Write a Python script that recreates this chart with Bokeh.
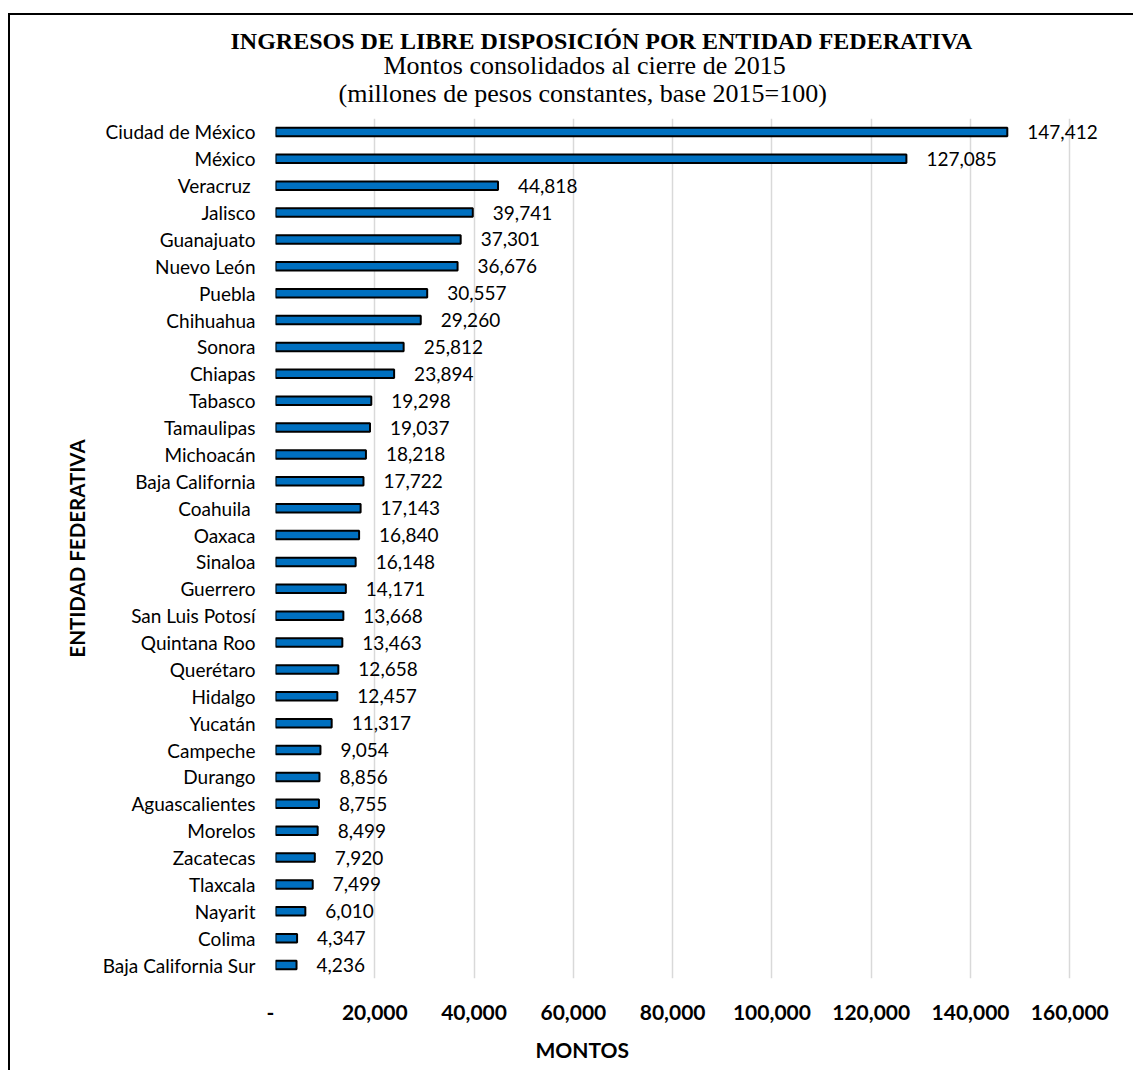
from bokeh.plotting import figure
from bokeh.models import FactorRange, Range1d, Title, ColumnDataSource
from bokeh.embed import file_html
from bokeh.resources import INLINE
from bokeh.core.properties import value

# ---------------- data ----------------
entidades = ["Ciudad de México", "México", "Veracruz ", "Jalisco", "Guanajuato",
             "Nuevo León", "Puebla", "Chihuahua", "Sonora", "Chiapas", "Tabasco",
             "Tamaulipas", "Michoacán", "Baja California", "Coahuila ", "Oaxaca",
             "Sinaloa", "Guerrero", "San Luis Potosí", "Quintana Roo", "Querétaro",
             "Hidalgo", "Yucatán", "Campeche", "Durango", "Aguascalientes", "Morelos",
             "Zacatecas", "Tlaxcala", "Nayarit", "Colima", "Baja California Sur"]
montos = [147412, 127085, 44818, 39741, 37301, 36676, 30557, 29260, 25812, 23894,
          19298, 19037, 18218, 17722, 17143, 16840, 16148, 14171, 13668, 13463,
          12658, 12457, 11317, 9054, 8856, 8755, 8499, 7920, 7499, 6010, 4347, 4236]
x_ticks = [0, 20000, 40000, 60000, 80000, 100000, 120000, 140000, 160000]
x_tick_labels = ["-\u00a0\u00a0", "20,000", "40,000", "60,000", "80,000", "100,000",
                 "120,000", "140,000", "160,000"]

titulo = "INGRESOS DE LIBRE DISPOSICIÓN POR ENTIDAD FEDERATIVA"
subtitulo1 = "Montos consolidados al cierre de 2015"
subtitulo2 = "(millones de pesos constantes, base 2015=100)"
eje_x = "MONTOS"
eje_y = "ENTIDAD FEDERATIVA"

# ---------------- layout (canvas starts at page x=10, y=15) ----------------
OX, OY = 10, 15
W, H = 1133 - OX, 1070 - OY
F_LEFT, F_RIGHT, F_TOP, F_BOTTOM = 275 - OX, 1120 - OX, 118 - OY, 978 - OY
PX_160K = 1069.3 - OX
x_end = x_ticks[-1] * (F_RIGHT - F_LEFT) / (PX_160K - F_LEFT)

SANS = "Lato"
SERIF = "Liberation Serif"

src = ColumnDataSource(dict(
    ent=entidades,
    monto=montos,
    txt=[f"{v:,}" for v in montos],
))

p = figure(width=W, height=H,
           y_range=FactorRange(factors=list(reversed(entidades))),
           x_range=Range1d(0, x_end),
           output_backend="svg", toolbar_location=None,
           min_border_left=F_LEFT, min_border_right=W - F_RIGHT,
           min_border_top=F_TOP, min_border_bottom=H - F_BOTTOM)
p.margin = (OY, 0, 0, OX)
p.styles = {"outline": "2px solid black"}
p.outline_line_color = None
p.background_fill_color = "white"
p.border_fill_color = "white"

p.hbar(y="ent", right="monto", left=0, height=0.32, source=src,
       fill_color="#0070C0", line_color="black", line_width=2)

p.text(x="monto", y="ent", text="txt", source=src, x_offset=20,
       text_align="left", text_baseline="middle",
       text_font=value(SANS), text_font_size="19px", text_color="black")

# axes
p.xaxis.ticker = x_ticks
p.xaxis.major_label_overrides = {t: l for t, l in zip(x_ticks, x_tick_labels)}
p.xaxis.axis_line_color = None
p.xaxis.major_tick_line_color = None
p.xaxis.minor_tick_line_color = None
p.xaxis.major_tick_out = 0
p.xaxis.minor_tick_out = 0
p.xaxis.major_label_standoff = 20
p.xaxis.major_label_text_font = SANS
p.xaxis.major_label_text_font_style = "bold"
p.xaxis.major_label_text_font_size = "21px"
p.xaxis.major_label_text_color = "black"

p.yaxis.axis_line_color = None
p.yaxis.major_tick_line_color = None
p.yaxis.minor_tick_line_color = None
p.yaxis.major_tick_out = 0
p.yaxis.minor_tick_out = 0
p.yaxis.major_label_standoff = 20
p.yaxis.major_label_text_font = SANS
p.yaxis.major_label_text_font_size = "19px"
p.yaxis.major_label_text_color = "black"
p.yaxis.axis_label = eje_y
p.yaxis.axis_label_standoff = 11
p.yaxis.axis_label_text_font = SANS
p.yaxis.axis_label_text_font_style = "bold"
p.yaxis.axis_label_text_font_size = "20.5px"
p.yaxis.axis_label_text_color = "black"

p.xgrid.grid_line_color = "#D9D9D9"
p.xgrid.grid_line_width = 1.5
p.ygrid.grid_line_color = None

# titles: first added sits nearest the frame
p.add_layout(Title(text=subtitulo2, align="left", offset=338 - 275, standoff=22,
                   text_font=SERIF, text_font_style="normal", text_font_size="26px",
                   text_color="black"), "above")
p.add_layout(Title(text=subtitulo1, align="left", offset=383 - 275, standoff=-28,
                   text_font=SERIF, text_font_style="normal", text_font_size="26px",
                   text_color="black"), "above")
p.add_layout(Title(text=titulo, align="left", offset=230 - 275, standoff=18,
                   text_font=SERIF, text_font_style="bold", text_font_size="24px",
                   text_color="black"), "above")
p.add_layout(Title(text=eje_x, align="left", offset=535 - 275, standoff=16,
                   text_font=SANS, text_font_style="bold", text_font_size="21px",
                   text_color="black"), "below")

open("out.html", "w").write(file_html(p, INLINE))
